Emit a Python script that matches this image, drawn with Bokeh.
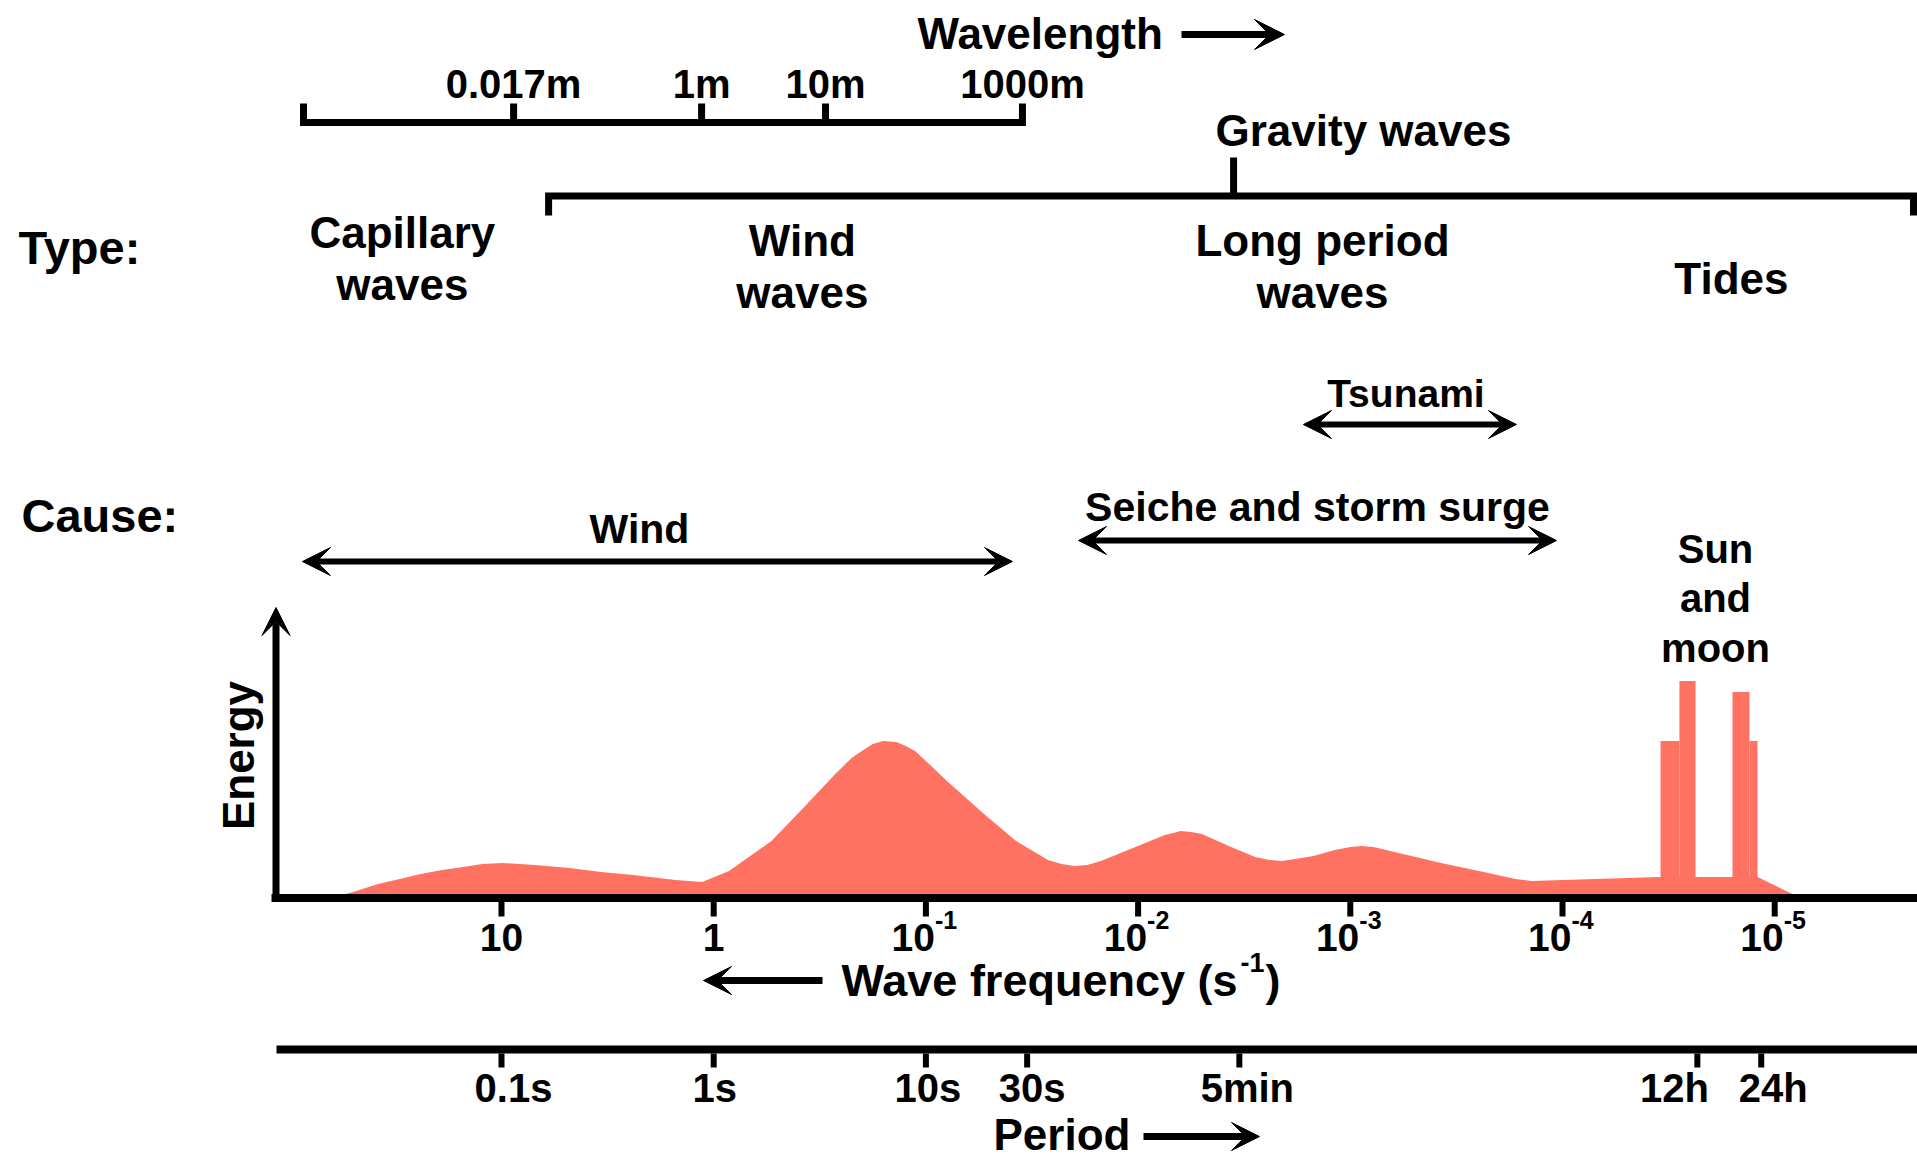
import numpy as np
from bokeh.plotting import figure
from bokeh.models import Range1d, Arrow, VeeHead
from bokeh.core.properties import value
from bokeh.embed import file_html
from bokeh.resources import INLINE

# ---------------------------------------------------------------------------
# DATA  (horizontal positions are log10 of the wave period in seconds)
# ---------------------------------------------------------------------------
# energy spectrum (arbitrary energy units)
spec_logT = [-1.807, -1.700, -1.582, -1.480, -1.381, -1.280, -1.181, -1.090, -0.995,
             -0.840, -0.680, -0.530, -0.379, -0.179, -0.054,
             0.072, 0.272, 0.422, 0.573, 0.650, 0.698, 0.750, 0.798, 0.860, 0.905, 0.949,
             1.020, 1.099, 1.274, 1.425, 1.575, 1.640, 1.700, 1.760, 1.825, 1.976,
             2.126, 2.165, 2.201, 2.250, 2.301, 2.427, 2.552, 2.620, 2.677, 2.740,
             2.827, 2.927, 3.000, 3.053, 3.110, 3.228, 3.428, 3.629, 3.779, 3.854,
             4.456, 4.920, 5.122]
spec_energy = [0, 6, 14, 19, 24, 28, 31, 34, 35,
               33, 30, 26, 23, 18, 16,
               27, 57, 90, 124, 140, 147, 154, 157, 156, 152, 147,
               133, 117, 84, 57, 38, 34, 32, 33, 37, 50,
               63, 65, 67, 66, 64, 52, 41, 38, 37, 39,
               42, 48, 51, 52, 51, 45, 35, 26, 19, 17,
               21, 21, 0]

# tidal spikes (semi-diurnal and diurnal)
tide_left = [4.462, 4.551, 4.801, 4.881]
tide_right = [4.551, 4.627, 4.881, 4.919]
tide_energy = [157, 217, 206, 157]

# frequency axis
freq_values = [10, 1, 1e-1, 1e-2, 1e-3, 1e-4, 1e-5]
freq_base = ["10", "1", "10", "10", "10", "10", "10"]
freq_exp = ["", "", "-1", "-2", "-3", "-4", "-5"]

# period axis
period_seconds = [0.1, 1, 10, 30, 300, 43200, 86400]
period_labels = ["0.1s", "1s", "10s", "30s", "5min", "12h", "24h"]

# wavelength scale
wavelength_labels = ["0.017m", "1m", "10m", "1000m"]
wavelength_logT = [-0.943, -0.057, 0.527, 1.455]
wavelength_scale_start = -1.933

# wave types
type_labels = ["Capillary\nwaves", "Wind\nwaves", "Long period\nwaves", "Tides"]
type_logT = [-1.467, 0.418, 2.869, 4.796]
gravity_start, gravity_mid, gravity_end = -0.778, 2.450, 5.654
gravity_label_logT = 3.062

# causes
cause_labels = ["Wind", "Seiche and storm surge", "Tsunami"]
cause_start = [-1.938, 1.719, 2.779]
cause_end = [1.408, 3.972, 3.783]
tide_cause_label = ["Sun", "and", "moon"]
tide_cause_logT = 4.721

# ---------------------------------------------------------------------------
# LAYOUT
# ---------------------------------------------------------------------------
W, H = 1917, 1158
PX_PER_DECADE = 212.2
PX_AT_MINUS1 = 501.0
TEXT_SHIFT = -15   # baseline correction (pixels, upward)


def ux(px):
    """horizontal pixel -> log10(period) units"""
    return (px - PX_AT_MINUS1) / PX_PER_DECADE - 1


X0, X1 = ux(0), ux(W)
FILL = "#FF7262"
FONT = value("Liberation Sans")

p = figure(width=W, height=H, x_range=Range1d(X0, X1), y_range=Range1d(H, 0),
           output_backend="svg", toolbar_location=None, min_border=0,
           x_axis_location=None, y_axis_location=None, outline_line_color=None,
           background_fill_color="white", border_fill_color="white")
p.xgrid.visible = False
p.ygrid.visible = False
AXIS_Y = 897.5
p.extra_y_ranges = {"energy": Range1d(-(H - AXIS_Y), AXIS_Y)}


def txt(x, y, s, size, align="center", baseline="alphabetic", angle=0, x_offset=0):
    p.text(x=[x], y=[y + TEXT_SHIFT], text=[s], text_font=FONT, text_font_style="bold",
           text_font_size=f"{size}px", text_align=align, text_baseline=baseline,
           text_color="black", angle=angle, x_offset=x_offset)


def arrow(x0, y0, x1, y1, lw=7, size=28, both=False):
    head = dict(size=size, fill_color="black", line_color="black", line_width=1)
    p.add_layout(Arrow(x_start=x0, y_start=y0, x_end=x1, y_end=y1,
                       line_width=lw, line_color="black",
                       end=VeeHead(**head),
                       start=VeeHead(**head) if both else None))


# ---------------- energy spectrum ----------------
p.varea(x=spec_logT, y1=0, y2=spec_energy, y_range_name="energy",
        fill_color=FILL)
p.quad(left=tide_left, right=tide_right, bottom=0, top=tide_energy,
       y_range_name="energy", fill_color=FILL, line_color=None)

# axes of the energy plot
p.line(x=[ux(271), X1], y=[AXIS_Y, AXIS_Y], line_width=8, line_color="black")
arrow(ux(275.5), AXIS_Y + 4, ux(275.5), 607, lw=7, size=28)
p.text(x=[ux(238)], y=[755], text=["Energy"], text_font=FONT, text_font_style="bold",
       text_font_size="44px", text_align="center", text_baseline="alphabetic",
       text_color="black", angle=np.pi / 2)

# frequency ticks and labels
fx = [-np.log10(f) for f in freq_values]
p.segment(x0=fx, y0=[901] * len(fx), x1=fx, y1=[916] * len(fx),
          line_width=6, line_color="black")
for x, b, e in zip(fx, freq_base, freq_exp):
    if e:
        txt(x, 952, b, 39, align="right", x_offset=9)
        txt(x, 934, e, 25, align="left", x_offset=9)
    else:
        txt(x, 952, b, 39)
txt(ux(841), 995, "Wave frequency (s", 45, align="left")
txt(ux(1240), 977, "-1", 27, align="left")
txt(ux(1265), 995, ")", 45, align="left")
arrow(ux(822), 980, ux(703), 980, lw=7, size=28)

# period axis
PER_Y = 1049
p.line(x=[ux(276), X1], y=[PER_Y, PER_Y], line_width=8, line_color="black")
px_ = [np.log10(s) for s in period_seconds]
p.segment(x0=px_, y0=[PER_Y + 4] * len(px_), x1=px_, y1=[1067] * len(px_),
          line_width=6, line_color="black")
period_label_shift = [12, 1, 2, 5, 8, -23, 12]
for x, s, dx in zip(px_, period_labels, period_label_shift):
    txt(x, 1102, s, 40, x_offset=dx)
txt(ux(993), 1149, "Period", 44, align="left")
arrow(ux(1143), 1136, ux(1259), 1136, lw=7, size=28)

# ---------------- wavelength scale ----------------
txt(ux(917), 48, "Wavelength", 44, align="left")
arrow(ux(1181), 34, ux(1284), 34, lw=7, size=30)
WL_Y, WL_TOP = 122, 103
p.line(x=[wavelength_scale_start, wavelength_scale_start, wavelength_logT[-1], wavelength_logT[-1]],
       y=[WL_TOP, WL_Y, WL_Y, WL_TOP], line_width=7, line_color="black", line_join="miter")
p.segment(x0=wavelength_logT[:-1], y0=[WL_Y] * 3, x1=wavelength_logT[:-1], y1=[WL_TOP] * 3,
          line_width=7, line_color="black")
for x, s in zip(wavelength_logT, wavelength_labels):
    txt(x, 98, s, 40)

# ---------------- gravity waves bracket ----------------
GR_Y = 195.5
p.line(x=[gravity_start, gravity_start, gravity_end, gravity_end],
       y=[215, GR_Y, GR_Y, 215], line_width=7, line_color="black", line_join="miter")
p.segment(x0=[gravity_mid], y0=[GR_Y], x1=[gravity_mid], y1=[157],
          line_width=7, line_color="black")
txt(gravity_label_logT, 145, "Gravity waves", 44)

# ---------------- wave types ----------------
txt(ux(18), 262, "Type:", 47, align="left")
type_first_baseline = [247, 255, 255, 293]
for x, lab, y0 in zip(type_logT, type_labels, type_first_baseline):
    for i, line in enumerate(lab.split("\n")):
        txt(x, y0 + 52 * i, line, 44)

# ---------------- causes ----------------
txt(ux(21), 530, "Cause:", 47, align="left")
cause_arrow_y = [561, 540, 424]
cause_text_y = [543, 521, 408]
cause_font = [41, 41, 39]
cause_dx = [-18, 0, -4]
for a, b, lab, ay, ty, fs, dx in zip(cause_start, cause_end, cause_labels,
                                     cause_arrow_y, cause_text_y, cause_font, cause_dx):
    arrow(a, ay, b, ay, lw=6, size=28, both=True)
    txt((a + b) / 2, ty, lab, fs, x_offset=dx)
for i, line in enumerate(tide_cause_label):
    txt(tide_cause_logT, 563 + 49.5 * i, line, 40)

open("out.html", "w").write(file_html(p, INLINE))
